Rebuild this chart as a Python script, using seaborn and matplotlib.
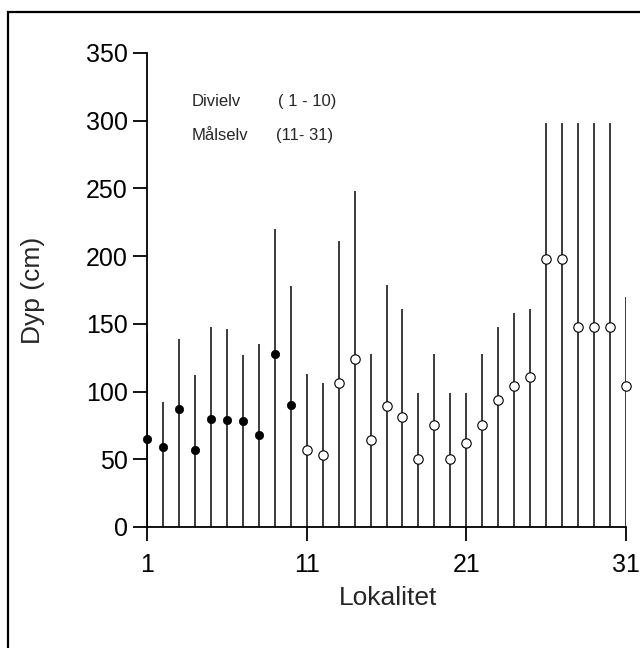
import numpy as np
import pandas as pd
import matplotlib
matplotlib.use("Agg")
import matplotlib.pyplot as plt
from matplotlib.patches import Rectangle
import seaborn as sns

# Sampling sites: 1-10 in Divielv, 11-31 in Målselv
lokalitet = list(range(1, 32))
dyp_middel = [65, 59, 87, 57, 80, 79, 78, 68, 128, 90,
              57, 53, 106, 124, 64, 89, 81, 50, 75, 50,
              62, 75, 94, 104, 111, 198, 198, 148, 148, 148, 104]
dyp_maks = [145, 92, 139, 112, 148, 146, 127, 135, 220, 178,
            113, 106, 211, 248, 128, 179, 161, 99, 128, 99,
            99, 128, 148, 158, 161, 298, 298, 298, 298, 298, 170]
elv = ["Divielv"] * 10 + ["Målselv"] * 21
x_ticks = [1, 11, 21, 31]
y_ticks = [0, 50, 100, 150, 200, 250, 300, 350]

df = pd.DataFrame({"Lokalitet": lokalitet, "Dyp": dyp_middel,
                   "Maks": dyp_maks, "Elv": elv})

sns.set_style("ticks")
plt.rcParams["font.family"] = ["Liberation Sans", "DejaVu Sans"]

fig = plt.figure(figsize=(6.4, 6.48), dpi=100)
ax = fig.add_axes([147 / 640, 1 - 527 / 648, 479 / 640, 474 / 648])

# depth range of each site, drawn from the bottom up to the deepest reading
ax.vlines(df["Lokalitet"], 0, df["Maks"], color="#1a1a1a", lw=1.2, zorder=1)

div = df[df["Elv"] == "Divielv"]
mal = df[df["Elv"] == "Målselv"]
sns.scatterplot(data=div, x="Lokalitet", y="Dyp", ax=ax, color="black",
                marker="o", s=36, edgecolor="black", linewidth=0.5,
                zorder=3, clip_on=False, legend=False)
sns.scatterplot(data=mal, x="Lokalitet", y="Dyp", ax=ax, color="white",
                marker="o", s=46, edgecolor="black", linewidth=0.8,
                zorder=3, clip_on=False, legend=False)

ax.set_xlim(1, 31)
ax.set_ylim(0, 350)
ax.set_xticks(x_ticks)
ax.set_yticks(y_ticks)
ax.tick_params(axis="both", direction="out", length=10, width=1.3,
               labelsize=18, colors="black", pad=4)
ax.tick_params(axis="x", pad=9)
for side in ("top", "right"):
    ax.spines[side].set_visible(False)
for side in ("left", "bottom"):
    ax.spines[side].set_linewidth(1.3)
    ax.spines[side].set_color("black")
    ax.spines[side].set_zorder(4)

ax.set_xlabel("Lokalitet", fontsize=19)
ax.set_ylabel("Dyp (cm)", fontsize=19)
ax.xaxis.set_label_coords(0.503, (527 - 586) / 474)
ax.yaxis.set_label_coords((45 - 147) / 479, 0.5)

ax.text(3.8, 314, "Divielv", fontsize=12, va="center", ha="left")
ax.text(9.2, 314, "( 1 - 10)", fontsize=12, va="center", ha="left")
ax.text(3.8, 289, "Målselv", fontsize=12, va="center", ha="left")
ax.text(9.1, 289, "(11- 31)", fontsize=12, va="center", ha="left")

# frame around the figure panel
fig.add_artist(Rectangle((8 / 640, -0.1), 1.2, (1 - 12 / 648) + 0.1,
                         transform=fig.transFigure, fill=False,
                         lw=1.6, edgecolor="black"))

fig.savefig("out.png", dpi=100)
